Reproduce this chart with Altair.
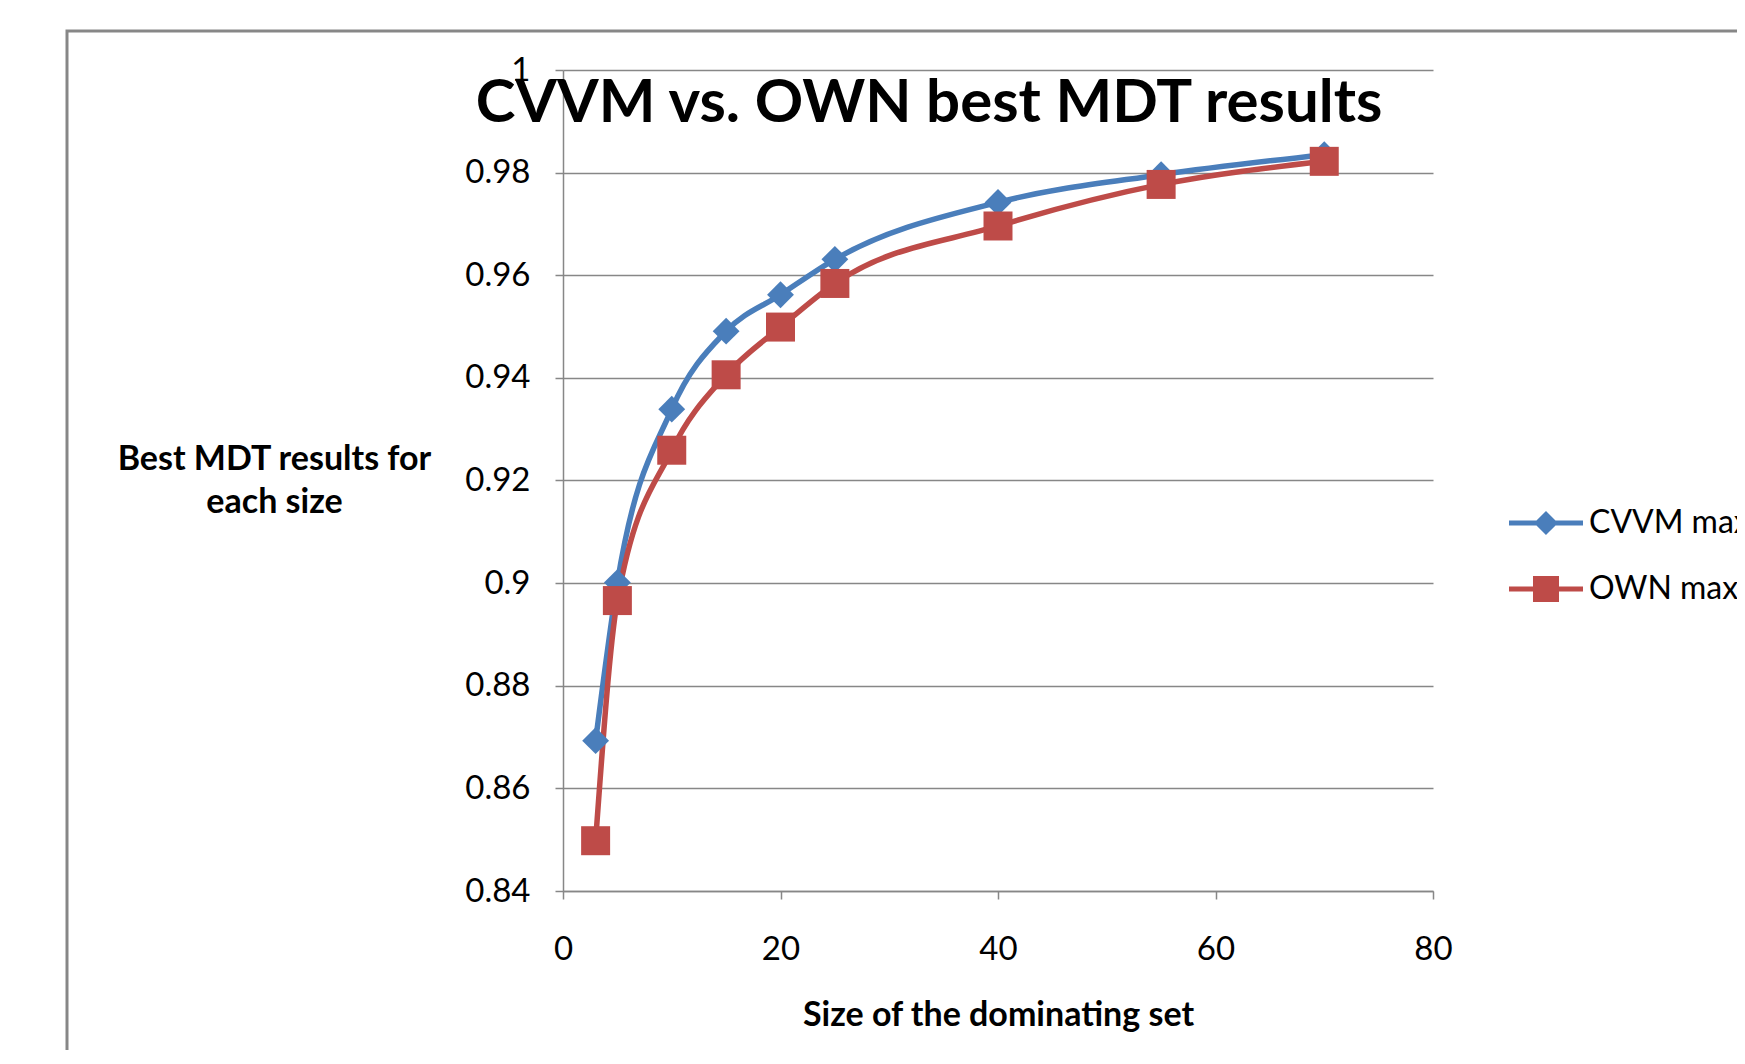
import altair as alt
import pandas as pd

# ---- data ----
x_sizes = [3, 5, 10, 15, 20, 25, 40, 55, 70]
cvvm_max = [0.8693, 0.9001, 0.9339, 0.9491, 0.9562, 0.9631, 0.9742, 0.9796, 0.9835]
own_max = [0.8498, 0.8966, 0.9259, 0.9406, 0.9499, 0.9584, 0.9696, 0.9777, 0.9822]
series_names = ["CVVM max", "OWN max"]
series_colors = ["#4A7EBB", "#BE4B48"]
x_ticks = [0, 20, 40, 60, 80]
y_ticks = [0.84, 0.86, 0.88, 0.9, 0.92, 0.94, 0.96, 0.98, 1.0]

rows = []
for xv, a, b in zip(x_sizes, cvvm_max, own_max):
    rows.append({"size": xv, "value": a, "series": series_names[0]})
    rows.append({"size": xv, "value": b, "series": series_names[1]})
df = pd.DataFrame(rows)

W, H = 870, 821
PAD = {"left": 555, "top": 62, "right": 304, "bottom": 159}
GRAY = "#878787"
FONT = "Lato"

# legend symbols: line with marker (custom paths)
diamond_line = ("M-2,-0.135 L-0.514,-0.135 L0,-0.649 L0.514,-0.135 L2,-0.135 L2,0.135 "
                "L0.514,0.135 L0,0.649 L-0.514,0.135 L-2,0.135 Z")
square_line = ("M-2,-0.135 L-0.703,-0.135 L-0.703,-0.703 L0.703,-0.703 L0.703,-0.135 L2,-0.135 "
               "L2,0.135 L0.703,0.135 L0.703,0.703 L-0.703,0.703 L-0.703,0.135 L-2,0.135 Z")

x_enc = alt.X("size:Q", scale=alt.Scale(domain=[0, 80], nice=False),
              axis=alt.Axis(values=x_ticks, grid=False, title="Size of the dominating set",
                            titleX=W / 2, titleY=124.5, titleBaseline="middle",
                            labelPadding=34, labelFlush=False, format="d"))
y_enc = alt.Y("value:Q", scale=alt.Scale(domain=[0.84, 1.0], zero=False, nice=False),
              axis=alt.Axis(values=y_ticks, grid=True, format="~g",
                            title=["Best MDT results for", "each size"],
                            titleAngle=0, titleAlign="center", titleBaseline="middle",
                            titleX=-289, titleY=389.6, titleLineHeight=43.4,
                            labelPadding=25))

color_nolegend = alt.Color("series:N", scale=alt.Scale(domain=series_names, range=series_colors),
                           legend=None)

frame = alt.Chart(pd.DataFrame({"k": [0]})).mark_rect(
    fill="white", fillOpacity=0, stroke=GRAY, strokeWidth=3
).encode(
    x=alt.value(-496), x2=alt.value(W + 400), y=alt.value(-39), y2=alt.value(H + 300)
)

lines = alt.Chart(df).mark_line(interpolate="monotone", strokeWidth=5.5).encode(
    x=x_enc, y=y_enc, color=color_nolegend, detail="series:N"
)

points = alt.Chart(df).mark_point(filled=True, opacity=1, strokeWidth=0).encode(
    x="size:Q", y="value:Q",
    color=color_nolegend,
    shape=alt.Shape("series:N", scale=alt.Scale(domain=series_names, range=["diamond", "square"]),
                    legend=None),
    size=alt.condition(alt.datum.series == "OWN max", alt.value(841), alt.value(720)),
)

leg = dict(title=None, orient="none", legendX=964.5, legendY=434.5,
           symbolSize=1369, symbolStrokeWidth=0, symbolOpacity=1,
           labelFont=FONT, labelFontSize=32, labelColor="black",
           labelOffset=24.5, rowPadding=31, padding=0, labelLimit=400)

legend_layer = alt.Chart(df).transform_filter("false").mark_point(
    filled=True, opacity=1, strokeWidth=0, size=1369
).encode(
    color=alt.Color("series:N", scale=alt.Scale(domain=series_names, range=series_colors),
                    legend=alt.Legend(**leg)),
    shape=alt.Shape("series:N", scale=alt.Scale(domain=series_names, range=[diamond_line, square_line]),
                    legend=alt.Legend(**leg)),
)

chart = alt.layer(frame, lines, points, legend_layer).resolve_scale(
    color="independent", shape="independent"
).properties(
    width=W, height=H,
    autosize=alt.AutoSizeParams(type="none"),
    padding=PAD,
    background="white",
    title=alt.TitleParams(text="CVVM vs. OWN best MDT results", font=FONT, fontSize=60,
                          fontWeight="bold", color="black", anchor="middle",
                          dx=-69, dy=134, baseline="middle", offset=0),
).configure_view(strokeWidth=0).configure_axis(
    domainColor=GRAY, domainWidth=1.5, tickColor=GRAY, tickWidth=1.5, tickSize=8,
    gridColor=GRAY, gridWidth=1.5, gridOpacity=1,
    labelFont=FONT, labelFontSize=33, labelColor="black",
    titleFont=FONT, titleFontSize=34, titleFontWeight="bold", titleColor="black",
)

chart.save("out.html", embed_options={"renderer": "svg", "actions": False})
